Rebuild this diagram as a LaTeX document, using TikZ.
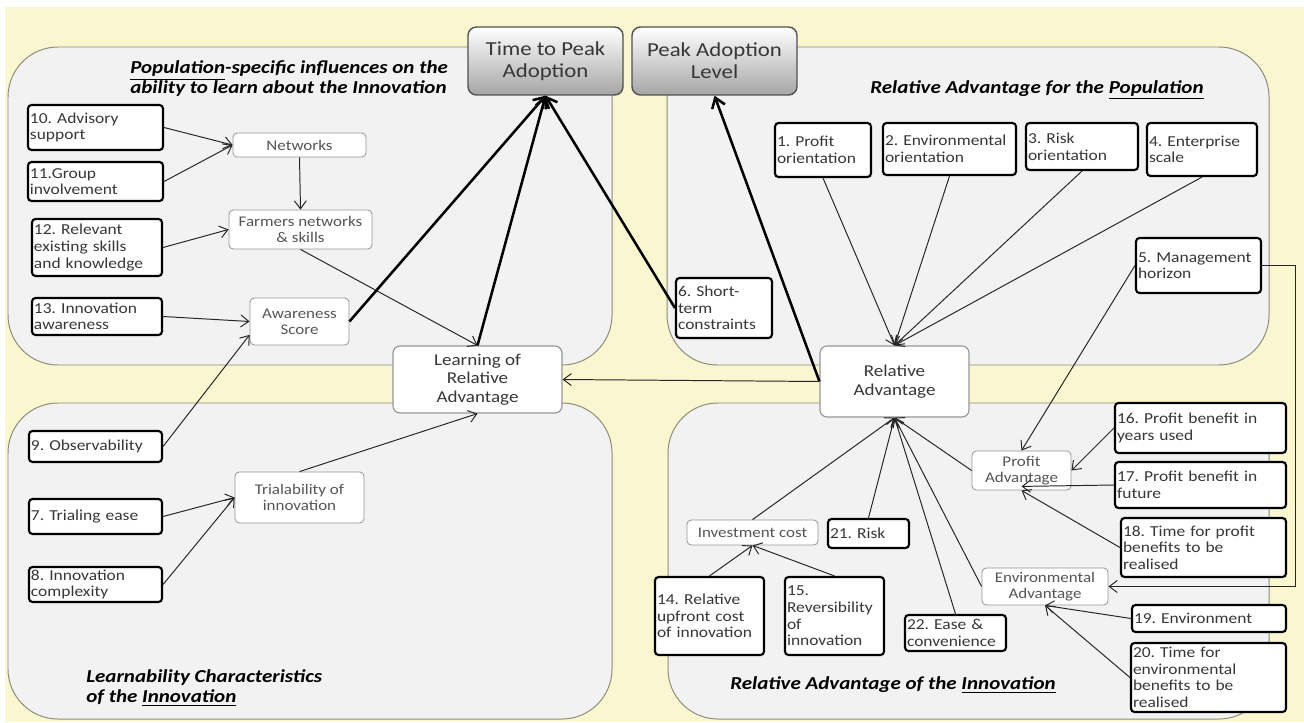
\documentclass[tikz,border=0pt]{standalone}
\usepackage{fontspec}
\setmainfont{Carlito}[FakeStretch=1.15]
\usetikzlibrary{arrows.meta}
\definecolor{bgyellow}{RGB}{250,247,208}
\definecolor{panelfill}{RGB}{242,242,242}
\definecolor{panelline}{RGB}{140,140,120}
\definecolor{boxtext}{RGB}{55,55,55}
\definecolor{midline}{RGB}{150,150,150}
\definecolor{midtext}{RGB}{85,85,85}
\definecolor{peakline}{RGB}{80,80,80}
\definecolor{peakgrey}{RGB}{165,165,165}
\newcommand\numfont{\fontsize{10.8}{11.8}\selectfont}
\newcommand\midfont{\fontsize{10.5}{11.3}\selectfont}
\newcommand\keyfont{\fontsize{11.8}{13.1}\selectfont}
\newcommand\peakfont{\fontsize{14.1}{15.6}\selectfont}
\newcommand\headfont{\fontsize{13}{14.2}\selectfont\bfseries\itshape}
\frenchspacing

\begin{document}
\begin{tikzpicture}[x=0.25mm,y=-0.25mm,
    panel/.style={draw=panelline,fill=panelfill,line width=0.7pt,rounded corners=12.5mm},
    numbox/.style={draw=black,line width=1.5pt,rounded corners=2.5pt,fill=white,inner xsep=0.5mm,inner ysep=0.4mm,align=left,font=\numfont,text=boxtext},
    midbox/.style={draw=midline,line width=0.6pt,rounded corners=3pt,fill=white,inner sep=0.5mm,align=center,font=\midfont,text=midtext},
    keybox/.style={draw=midline,line width=0.8pt,rounded corners=5pt,fill=white,inner sep=0.5mm,align=center,font=\keyfont,text=boxtext},
    peakbox/.style={draw=peakline,line width=1pt,rounded corners=6pt,top color=white,bottom color=peakgrey,inner sep=0.5mm,align=center,font=\peakfont,text=boxtext},
    head/.style={font=\headfont,text=black,inner sep=0pt},
    arr/.style={draw=black!85,line width=0.7pt,-{Straight Barb[length=2mm,width=3mm]}},
    thickarr/.style={draw=black,line width=1.8pt,-{Straight Barb[length=2.4mm,width=3.4mm]}}]

\useasboundingbox[fill=white] (0,0) rectangle (1304,722);
\fill[bgyellow] (5,7) rectangle (1304,722);
\draw[panel] (8,47) rectangle (612,365);
\draw[panel] (667,47) rectangle (1269,365);
\draw[panel] (8,403) rectangle (612,719);
\draw[panel] (668,403) rectangle (1269,719);

\node[head,anchor=west,align=left] (h1) at (130,79) {\underline{Population}-specific influences on the\\ability to learn about the Innovation};
\node[head] (h2) at (1037,90) {Relative Advantage for the \underline{Population}};
\node[head,anchor=west,align=left] (h3) at (86,688) {Learnability Characteristics\\of the \underline{Innovation}};
\node[head] (h4) at (893,685) {Relative Advantage of the \underline{Innovation}};

\node[peakbox,minimum width=38.75mm,minimum height=17mm] (ttpa) at (545.5,61) {Time to Peak\\Adoption};
\node[peakbox,minimum width=41.25mm,minimum height=17mm] (pal) at (714.5,61) {Peak Adoption\\Level};

\node[numbox,text width=32.75mm,minimum height=11.25mm] (n10) at (95.5,127.5) {10. Advisory\\support};
\node[numbox,text width=32.75mm,minimum height=9.75mm] (n11) at (95.5,181.5) {11.Group\\involvement};
\node[numbox,text width=31.5mm,minimum height=14.25mm] (n12) at (97,247.5) {12. Relevant\\existing skills\\and knowledge};
\node[numbox,text width=31.5mm,minimum height=9.25mm] (n13) at (97,316.5) {13. Innovation\\awareness};
\node[numbox,text width=32.25mm,minimum height=7.75mm] (n9) at (95.5,446.5) {9. Observability};
\node[numbox,text width=32.25mm,minimum height=8.75mm] (n7) at (95.5,516.5) {7. Trialing ease};
\node[numbox,text width=32.25mm,minimum height=8.75mm] (n8) at (95.5,584.5) {8. Innovation\\complexity};
\node[numbox,text width=23mm,minimum height=13.5mm] (n1) at (823,150) {1. Profit\\orientation};
\node[numbox,text width=32.25mm,minimum height=13mm] (n2) at (949.5,149) {2. Environmental\\orientation};
\node[numbox,text width=27mm,minimum height=11.75mm] (n3) at (1082,146.5) {3. Risk\\orientation};
\node[numbox,text width=26.5mm,minimum height=13.25mm] (n4) at (1202,149.5) {4. Enterprise\\scale};
\node[numbox,text width=30.25mm,minimum height=13.75mm] (n5) at (1198.5,265.5) {5. Management\\horizon};
\node[numbox,text width=23mm,minimum height=15mm] (n6) at (724,308) {6. Short-\\term\\constraints};
\node[numbox,text width=26.25mm,minimum height=19.5mm] (n14) at (709.5,616) {14. Relative\\upfront cost\\of innovation};
\node[numbox,text width=23.75mm,minimum height=19.5mm] (n15) at (834.5,616) {15.\\Reversibility\\of\\innovation};
\node[numbox,text width=19.25mm,minimum height=7.25mm] (n21) at (868.5,533.5) {21. Risk};
\node[numbox,text width=24.25mm,minimum height=9mm] (n22) at (955.5,633) {22. Ease \&\\convenience};
\node[numbox,text width=41.75mm,minimum height=12.5mm] (n16) at (1200.5,428) {16. Profit benefit in\\years used};
\node[numbox,text width=41.75mm,minimum height=11.5mm] (n17) at (1200.5,485) {17. Profit benefit in\\future};
\node[numbox,text width=40.25mm,minimum height=14.75mm] (n18) at (1203.5,547.5) {18. Time for profit\\benefits to be\\realised};
\node[numbox,text width=37.5mm,minimum height=6.75mm] (n19) at (1209,618.5) {19. Environment};
\node[numbox,text width=37.75mm,minimum height=17.25mm] (n20) at (1208.5,677.5) {20. Time for\\environmental\\benefits to be\\realised};

\node[midbox,minimum width=33.25mm,minimum height=6mm] (netw) at (299.5,145) {Networks};
\node[midbox,minimum width=35.75mm,minimum height=9.75mm] (farm) at (300.5,229.5) {Farmers networks\\\& skills};
\node[midbox,minimum width=24.75mm,minimum height=11.75mm] (aware) at (299.5,321.5) {Awareness\\Score};
\node[midbox,minimum width=32.25mm,minimum height=12.75mm] (trial) at (299.5,497.5) {Trialability of\\innovation};
\node[midbox,minimum width=32.75mm,minimum height=6.25mm] (invest) at (752.5,532.5) {Investment cost};
\node[midbox,minimum width=24.75mm,minimum height=9.75mm] (profit) at (1021.5,470.5) {Profit\\Advantage};
\node[midbox,minimum width=31.5mm,minimum height=9.25mm] (envadv) at (1045,586.5) {Environmental\\Advantage};

\node[keybox,minimum width=42.25mm,minimum height=16.75mm] (learn) at (477.5,379.5) {Learning of\\Relative\\Advantage};
\node[keybox,minimum width=37.25mm,minimum height=17.75mm] (relad) at (894.5,381.5) {Relative\\Advantage};

\draw[arr] (n10.east) -- (netw.west);
\draw[arr] (n11.east) -- (netw.west);
\draw[arr] (netw.south) -- (farm.north);
\draw[arr] (n12.east) -- (farm.west);
\draw[arr] (n13.east) -- (aware.west);
\draw[arr] (n9.east) -- (aware.195);
\draw[arr] (farm.south) -- (learn.north);
\draw[arr] (n7.east) -- (trial.west);
\draw[arr] (n8.east) -- (trial.west);
\draw[arr] (trial.north) -- (learn.south);
\draw[thickarr] (aware.east) -- (ttpa.south);
\draw[thickarr] (learn.north) -- (ttpa.south);
\draw[thickarr] (n6.west) -- (ttpa.south);
\draw[thickarr] (relad.west) -- (pal.south);
\draw[arr] (relad.west) -- (learn.east);
\draw[arr] (n1.south) -- (relad.north);
\draw[arr] (n2.south) -- (relad.north);
\draw[arr] (n3.south) -- (relad.north);
\draw[arr] (n4.south) -- (relad.north);
\draw[arr] (n5.west) -- (profit.north);
\draw[arr] (n5.east) -- ++(33,0) |- (envadv.east);
\draw[arr] (invest.north) -- (relad.south);
\draw[arr] (n21.north) -- (relad.south);
\draw[arr] (n22.north) -- (relad.south);
\draw[arr] (profit.west) -- (relad.south);
\draw[arr] (envadv.west) -- (relad.south);
\draw[arr] (n14.north) -- (invest.south);
\draw[arr] (n15.north) -- (invest.south);
\draw[arr] (n16.west) -- (profit.east);
\draw[arr] (n17.west) -- ([yshift=1mm]profit.south);
\draw[arr] (n18.west) -- (profit.south);
\draw[arr] (n19.west) -- (envadv.south);
\draw[arr] (n20.west) -- (envadv.south);
\end{tikzpicture}
\end{document}
